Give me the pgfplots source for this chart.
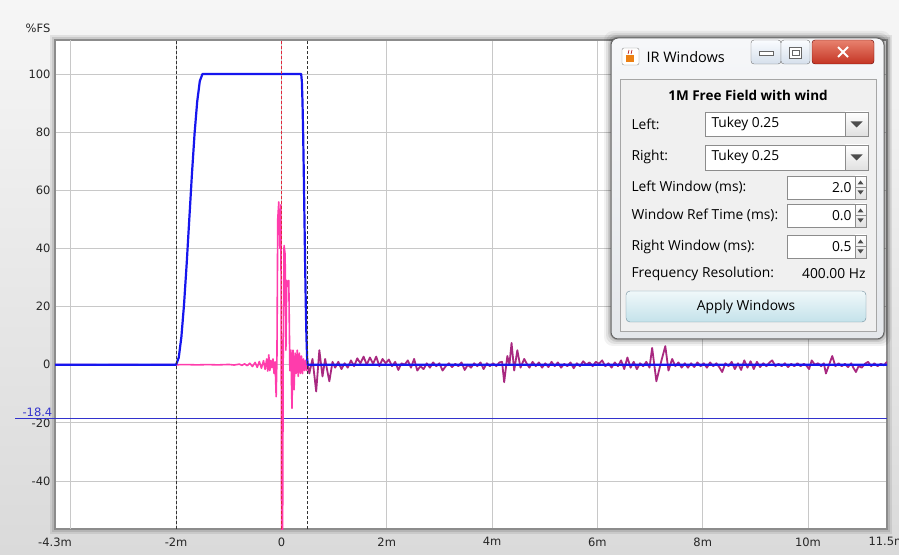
\documentclass[border=0pt]{standalone}
\usepackage{fontspec}
\setmainfont{DejaVu Sans}
\newfontfamily\dlgfont{Open Sans}
\usepackage{pgfplots}
\pgfplotsset{compat=1.18}
\definecolor{bgtop}{RGB}{246,246,246}
\definecolor{bgbot}{RGB}{218,218,218}
\definecolor{gridc}{RGB}{200,200,200}
\definecolor{framec}{RGB}{140,140,140}
\definecolor{pinkc}{RGB}{255,60,172}
\definecolor{purplec}{RGB}{168,40,128}
\definecolor{winblue}{RGB}{22,22,238}
\definecolor{refblue}{RGB}{50,50,205}
\definecolor{redd}{RGB}{225,40,60}
\definecolor{dlgborder}{RGB}{100,100,100}
\definecolor{dlgtop}{RGB}{246,247,249}
\definecolor{dlgbot}{RGB}{228,231,235}
\definecolor{panelbg}{RGB}{240,240,240}
\definecolor{btntop}{RGB}{240,248,250}
\definecolor{btnbot}{RGB}{196,226,234}
\definecolor{btnedge}{RGB}{110,140,155}
\definecolor{closetop}{RGB}{232,130,110}
\definecolor{closebot}{RGB}{196,52,36}
\definecolor{captop}{RGB}{250,252,255}
\definecolor{capbot}{RGB}{214,224,236}
\newcommand{\axfont}{\fontsize{11.5}{13}\selectfont}
\newcommand{\dfont}{\dlgfont\fontsize{13.8}{16}\selectfont}
\begin{document}
\begin{tikzpicture}[x=1pt,y=1pt]
\useasboundingbox (0,0) rectangle (899,554);
\shade[top color=bgtop,bottom color=bgbot] (0,0) rectangle (899,554);
\fill[black,opacity=0.10] (52,22) rectangle (890,517);
\fill[black,opacity=0.08] (50,20) rectangle (892,519);
\begin{axis}[
  at={(55pt,25pt)}, anchor=south west,
  scale only axis, width=832pt, height=489pt,
  xmin=-4.3, xmax=11.5, ymin=-56.5, ymax=111.7,
  axis background/.style={fill=white},
  axis line style={draw=framec, line width=1.3pt},
  xtick={-4.3,-2,0,2,4,6,8,10,11.5},
  xticklabels={-4.3m,-2m,0,2m,4m,6m,8m,10m,11.5m},
  extra x ticks={-4}, extra x tick labels={},
  extra x tick style={grid=major},
  ytick={-40,-20,0,20,40,60,80,100},
  grid=major,
  major grid style={draw=gridc, line width=0.8pt},
  major tick length=0pt,
  tick label style={font=\axfont, text=black!85},
  /pgf/number format/assume math mode=true,
  xticklabel style={yshift=-5pt},
  yticklabel style={xshift=-1pt},
]
% reference level line
\addplot[refblue, line width=0.9pt] coordinates {(-4.3,-18.4) (11.5,-18.4)};
\coordinate (ref) at (axis cs:-4.3,-18.4);
% impulse, unwindowed part
\addplot[pinkc, line width=1.6pt, line join=round] coordinates {
(-4.3,0) (-3.8,0.05) (-3.4,-0.05) (-3.0,0.05) (-2.6,-0.05) (-2.2,0.05) (-2.0,0)
(-1.8,0.05) (-1.6,-0.05) (-1.4,0.05) (-1.2,-0.05) (-1.0,0.1) (-0.9,-0.1) (-0.8,0.2)
(-0.75,-0.2) (-0.7,0.3) (-0.65,-0.3) (-0.6,0.5) (-0.55,-0.6) (-0.5,0.8) (-0.46,-0.9)
(-0.42,1.1) (-0.38,-1.2) (-0.34,1.4) (-0.31,-1.6) (-0.28,2.0) (-0.26,-2.2) (-0.24,3.4)
(-0.22,-2.0) (-0.20,1.5) (-0.18,-1.0) (-0.16,2.0) (-0.14,-3.0) (-0.12,1.0) (-0.10,-11)
(-0.085,3) (-0.07,50) (-0.05,56) (-0.03,40) (-0.01,55) (0.005,-70) (0.02,-70)
(0.035,10) (0.05,41) (0.07,38) (0.085,5) (0.10,29) (0.12,27) (0.14,29) (0.16,-2)
(0.18,5) (0.20,-15) (0.22,5) (0.24,-8.6) (0.26,4) (0.28,-3) (0.30,5) (0.32,-4)
(0.34,4) (0.36,-3) (0.38,3) (0.40,-3) (0.42,2) (0.44,-2) (0.46,1.5) (0.48,-2) (0.5,0)
};
% impulse, windowed remainder
\addplot[purplec, line width=1.8pt, line join=round] coordinates {
(0.50,0) (0.53,-3) (0.59,2) (0.66,-9.2) (0.72,5) (0.78,-4) (0.83,2) (0.87,-2) (0.91,-5.7)
(0.97,1) (1.02,-1) (1.08,1) (1.14,-1.5) (1.20,0.5) (1.26,-1) (1.32,1.5) (1.38,-0.5)
(1.44,2.2) (1.50,0.5) (1.56,2.8) (1.62,0) (1.68,2.5) (1.74,0.3) (1.80,2.8) (1.86,-0.5)
(1.92,2) (1.98,0.5) (2.04,1.8) (2.10,-0.5) (2.16,1) (2.22,-1.8) (2.28,0.5) (2.34,0)
(2.40,1.5) (2.46,-1) (2.52,2) (2.58,-2) (2.64,-0.5) (2.70,-1.5) (2.76,0.5) (2.82,-1)
(2.88,0.8) (2.94,-0.5) (3.00,0.5) (3.06,-2) (3.12,-0.5) (3.18,0.5) (3.24,-0.8) (3.30,0.3)
(3.36,-0.5) (3.42,0.8) (3.48,-1.8) (3.54,0) (3.60,-1) (3.66,0.5) (3.72,-0.5) (3.78,0.8)
(3.84,-1.5) (3.90,0.5) (3.96,-0.5) (4.02,0.5) (4.08,-0.5) (4.14,0.8) (4.19,1) (4.23,-6)
(4.29,3) (4.33,0) (4.37,7.5) (4.42,-2) (4.48,5) (4.54,-1) (4.61,2) (4.67,0) (4.71,-1)
(4.77,1) (4.83,-0.5) (4.89,0.8) (4.95,-1) (5.01,0.5) (5.07,-0.8) (5.13,1) (5.19,-0.5)
(5.25,0.8) (5.31,-1) (5.37,0.3) (5.43,-0.5) (5.49,0.8) (5.55,-1.2) (5.61,0.5) (5.67,-0.5)
(5.73,1.2) (5.79,0) (5.85,0.8) (5.91,-0.5) (5.97,1) (6.03,0.3) (6.09,1.5) (6.15,-0.5)
(6.21,0.5) (6.27,-1) (6.33,0.8) (6.39,-0.5) (6.45,1.5) (6.51,-1.5) (6.57,2.5) (6.63,-1)
(6.69,1) (6.75,-1.5) (6.81,0.5) (6.87,-0.5) (6.93,1) (6.99,-1) (7.04,5.8) (7.12,-5.7)
(7.21,1) (7.29,6.4) (7.35,-2) (7.42,2) (7.48,-0.5) (7.54,0.8) (7.60,-1) (7.66,0.5)
(7.72,-1) (7.78,0.5) (7.84,-0.8) (7.90,0.8) (7.96,-0.5) (8.02,0.5) (8.08,-1) (8.14,0.8)
(8.20,-0.5) (8.26,0.5) (8.32,-1) (8.37,-2.5) (8.43,0.5) (8.49,-0.5) (8.55,1) (8.61,-1.5)
(8.67,0.5) (8.73,-1.8) (8.79,1.5) (8.85,-1) (8.91,1.2) (8.97,-1.5) (9.03,1) (9.09,-0.8)
(9.15,0.5) (9.21,-0.5) (9.27,0.8) (9.32,1.5) (9.38,-0.5) (9.44,0.3) (9.50,-0.5) (9.56,0.5)
(9.62,-0.8) (9.68,0.3) (9.74,-0.5) (9.80,0.5) (9.86,-0.5) (9.92,0.3) (9.97,-0.3)
(10.02,-1.5) (10.07,1.5) (10.13,0) (10.19,0.5) (10.25,-0.5) (10.30,0.5) (10.34,-3)
(10.40,0) (10.46,3) (10.52,-0.5) (10.58,0.5) (10.64,-0.5) (10.70,0.3) (10.76,-0.8)
(10.82,0.5) (10.86,-1) (10.91,-2.5) (10.96,-0.5) (11.02,-1) (11.08,0.3) (11.14,1)
(11.20,-0.5) (11.26,0.5) (11.32,-0.5) (11.38,0.3) (11.44,-0.2) (11.50,1)
};
% window function (Tukey 0.25)
\addplot[winblue, line width=2.2pt, line join=round] coordinates {
(-4.3,0) (-2,0) (-1.95,2.45) (-1.90,9.55) (-1.85,20.61) (-1.80,34.55) (-1.75,50)
(-1.70,65.45) (-1.65,79.39) (-1.60,90.45) (-1.55,97.55) (-1.50,100) (0.375,100)
(0.3875,97.55) (0.400,90.45) (0.4125,79.39) (0.425,65.45) (0.4375,50) (0.450,34.55)
(0.4625,20.61) (0.475,9.55) (0.4875,2.45) (0.5,0) (11.5,0)
};
% window markers
\addplot[black!80, line width=0.8pt, dash pattern=on 3pt off 2pt] coordinates {(-2,-60) (-2,115)};
\addplot[black!80, line width=0.8pt, dash pattern=on 3pt off 2pt] coordinates {(0.5,-60) (0.5,115)};
\addplot[redd, line width=0.8pt, dash pattern=on 3pt off 2pt] coordinates {(0,-60) (0,115)};
\end{axis}
\draw[refblue, line width=0.9pt] (ref) -- ++(-40pt,0);
\node[anchor=south east, inner sep=0.5pt, text=refblue, font=\axfont] at ([xshift=-2pt,yshift=0.5pt]ref) {-18.4};
\node[font=\axfont, text=black!85] at (38,526) {\%FS};
% ---------------- IR Windows dialog ----------------
\foreach \s/\o in {7/0.05,5/0.07,3/0.10,1.5/0.14}
  \fill[black,opacity=\o,rounded corners=9] ({611-\s},{215-\s}) rectangle ({884+\s},{516+\s});
\path[rounded corners=7, top color=dlgtop, bottom color=dlgbot, draw=dlgborder, line width=1pt] (611,215) rectangle (884,516);
\draw[fill=panelbg, draw=black!35] (620,223) rectangle (876,475);
% title bar
\draw[rounded corners=2, fill=white, draw=black!45] (622,489) rectangle (639,506);
\fill[orange!70!brown] (626,492) rectangle (634,499);
\draw[red!70!black, line width=0.6pt] (628,500) -- (629,504) (631,500) -- (632,504);
\node[anchor=west, font=\dlgfont\fontsize{14.5}{16}\selectfont] at (643,497) {IR Windows};
\path[rounded corners=3, top color=captop, bottom color=capbot, draw=black!55] (751,490) rectangle (781,514);
\draw[fill=white, draw=black!60] (759,499) rectangle (773,503);
\path[rounded corners=3, top color=captop, bottom color=capbot, draw=black!55] (781,490) rectangle (810,514);
\draw[fill=white, draw=black!60] (789.5,496) rectangle (801.5,507);
\draw[black!60] (792,499) rectangle (799,504);
\path[rounded corners=3, top color=closetop, bottom color=closebot, draw=red!40!black] (812,490) rectangle (874,514);
\draw[white, line width=2pt] (838,497) -- (848,507) (838,507) -- (848,497);
% panel contents
\node[font=\dlgfont\bfseries\fontsize{13.5}{15}\selectfont] at (748,459) {1M Free Field with wind};
\node[anchor=west, font=\dfont] at (628,430) {Left:};
\draw[fill=white, draw=black!45] (705,418) rectangle (868,442);
\path[top color=white, bottom color=black!12, draw=black!45] (845,418) rectangle (868,442);
\fill[black!70] (850.5,432.5) -- (862.5,432.5) -- (856.5,426.5) -- cycle;
\node[anchor=west, font=\dfont] at (708,430) {Tukey 0.25};
\node[anchor=west, font=\dfont] at (628,397) {Right:};
\draw[fill=white, draw=black!45] (705,384) rectangle (868,409);
\path[top color=white, bottom color=black!12, draw=black!45] (845,384) rectangle (868,409);
\fill[black!70] (850.5,399.5) -- (862.5,399.5) -- (856.5,393.5) -- cycle;
\node[anchor=west, font=\dfont] at (708,397) {Tukey 0.25};
\foreach \yy/\lab/\val in {366.5/Left Window (ms):/2.0, 338.5/Window Ref Time (ms):/0.0, 307.5/Right Window (ms):/0.5} {
  \node[anchor=west, font=\dfont] at (628,\yy) {\lab};
  \draw[fill=white, draw=black!45] (787,{\yy-11.5}) rectangle (855,{\yy+11.5});
  \path[top color=white, bottom color=black!12, draw=black!45] (855,{\yy-11.5}) rectangle (866,{\yy+11.5});
  \draw[black!45] (855,\yy) -- (866,\yy);
  \fill[black!70] (857.5,{\yy+3}) -- (863.5,{\yy+3}) -- (860.5,{\yy+7}) -- cycle;
  \fill[black!70] (857.5,{\yy-3}) -- (863.5,{\yy-3}) -- (860.5,{\yy-7}) -- cycle;
  \node[anchor=east, font=\dfont] at (855,\yy) {\val};
}
\node[anchor=west, font=\dfont] at (628,280) {Frequency Resolution:};
\node[anchor=east, font=\dfont] at (869,280) {400.00 Hz};
\path[rounded corners=4, top color=btntop, bottom color=btnbot, draw=btnedge] (626,232) rectangle (866,263);
\node[font=\dfont] at (746,247.5) {Apply Windows};
\end{tikzpicture}
\end{document}
